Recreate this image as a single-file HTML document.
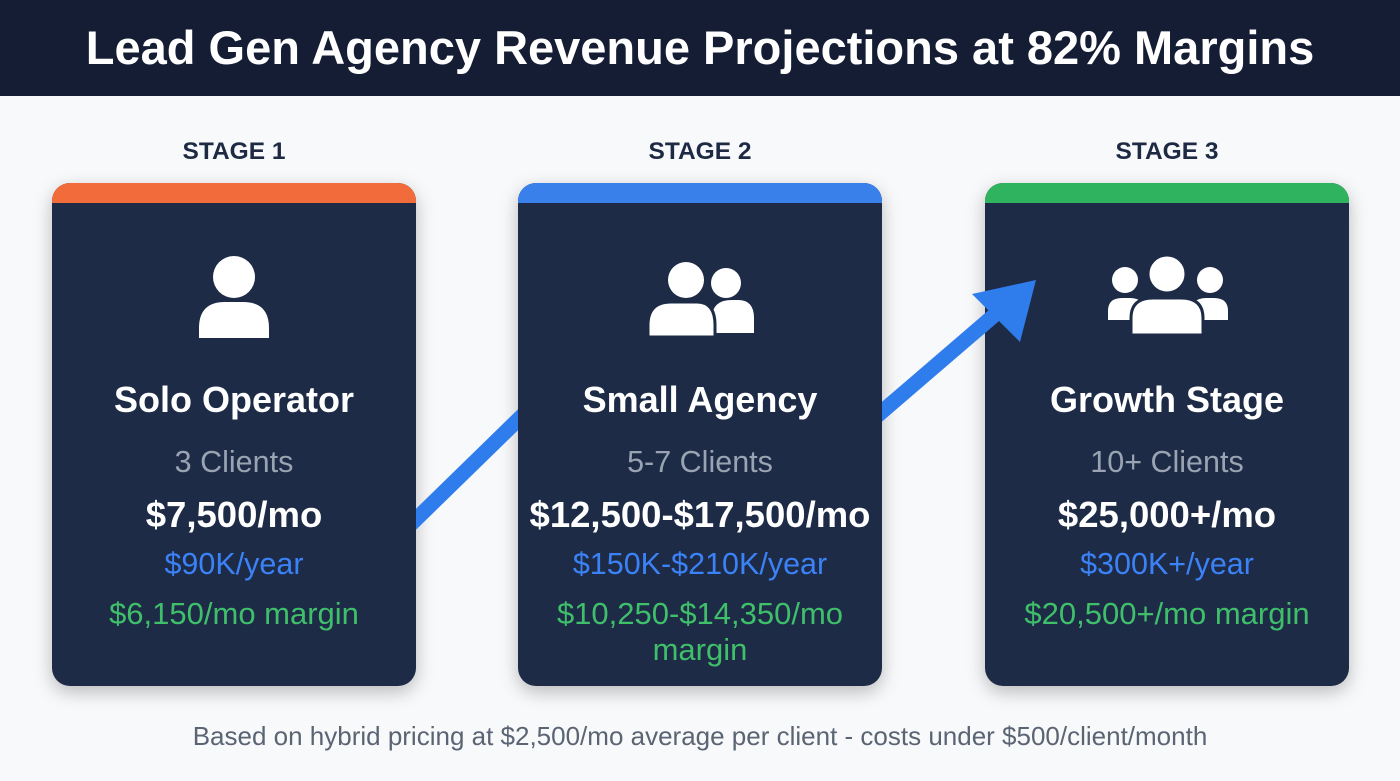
<!DOCTYPE html>
<html><head><meta charset="utf-8"><style>
body{margin:0;width:1400px;height:781px;background:#f8f9fb;font-family:"Liberation Sans",sans-serif;position:relative;overflow:hidden}
.hdr{position:absolute;left:0;top:0;width:1400px;height:96px;background:#141d33;color:#fff;font-weight:bold;font-size:47px;text-align:center;line-height:96px}
.stage{position:absolute;top:138px;width:364px;text-align:center;font-weight:bold;font-size:24.5px;color:#1e2a44}
.card{position:absolute;top:183px;width:364px;height:503px;background:#1d2b47;border-radius:18px;overflow:hidden;box-shadow:0 6px 18px rgba(0,0,0,0.25);text-align:center}
.bar{height:20px}
.t{position:absolute;left:0;width:100%;text-align:center;white-space:nowrap}
.name{top:196px;font-weight:bold;font-size:36px;color:#fff}
.cl{top:262px;font-size:30.5px;color:#9aa3b2}
.pr{top:311px;font-weight:bold;font-size:36.5px;color:#fff}
.yr{top:364px;font-size:30.5px;color:#3b82f6}
.mg{top:413px;font-size:31px;color:#3fbf6a;line-height:36px}
.icon{position:absolute;left:0;top:0;width:364px;height:170px}
.foot{position:absolute;top:721px;width:1400px;text-align:center;font-size:26px;color:#5a6473}
</style></head><body>
<div class="hdr">Lead Gen Agency Revenue Projections at 82% Margins</div>
<div class="stage" style="left:52px">STAGE 1</div>
<div class="stage" style="left:518px">STAGE 2</div>
<div class="stage" style="left:985px">STAGE 3</div>

<div class="card" style="left:52px">
<div class="bar" style="background:#f26b3a"></div>
<svg class="icon"><circle cx="182" cy="94" r="21" fill="#fff"/><path d="M147 155 v-10 q0-26 26-26 h18 q26 0 26 26 v10 z" fill="#fff"/></svg>
<div class="t name">Solo Operator</div><div class="t cl">3 Clients</div><div class="t pr">$7,500/mo</div><div class="t yr">$90K/year</div><div class="t mg">$6,150/mo margin</div>
</div>
<div class="card" style="left:518px">
<div class="bar" style="background:#3a80ea"></div>
<svg class="icon"><circle cx="168" cy="97" r="18" fill="#fff"/><circle cx="208" cy="100" r="15" fill="#fff"/><path d="M194 150 v-15 q0-18 20-18 h6 q16 0 16 18 v15 z" fill="#fff"/><path d="M130 154 v-12 q0-23 23-23 h26 q18 0 18 23 v12 z" fill="#fff" stroke="#1d2b47" stroke-width="3"/></svg>
<div class="t name">Small Agency</div><div class="t cl">5-7 Clients</div><div class="t pr">$12,500-$17,500/mo</div><div class="t yr">$150K-$210K/year</div><div class="t mg">$10,250-$14,350/mo<br>margin</div>
</div>
<div class="card" style="left:985px">
<div class="bar" style="background:#2fb35e"></div>
<svg class="icon"><circle cx="140" cy="97" r="13" fill="#fff"/><circle cx="225" cy="97" r="13" fill="#fff"/><path d="M123 137 v-9 q0-13 14-13 h8 q14 0 14 13 v9 z" fill="#fff"/><path d="M207 137 v-9 q0-13 14-13 h8 q14 0 14 13 v9 z" fill="#fff"/><circle cx="182" cy="91" r="19" fill="#fff" stroke="#1d2b47" stroke-width="3"/><path d="M146 152 v-17 q0-20 22-20 h28 q22 0 22 20 v17 z" fill="#fff" stroke="#1d2b47" stroke-width="3"/></svg>
<div class="t name">Growth Stage</div><div class="t cl">10+ Clients</div><div class="t pr">$25,000+/mo</div><div class="t yr">$300K+/year</div><div class="t mg">$20,500+/mo margin</div>
</div>
<svg style="position:absolute;left:0;top:0;z-index:5" width="1400" height="781">
<defs><clipPath id="c1"><rect x="416" y="0" width="102" height="781"/><rect x="882" y="0" width="300" height="781"/></clipPath></defs>
<g clip-path="url(#c1)">
<line x1="405" y1="530" x2="530" y2="408" stroke="#2f7cec" stroke-width="15"/>
<line x1="870" y1="422" x2="1005" y2="306" stroke="#2f7cec" stroke-width="15"/>
</g>
<polygon points="1036,280 1020,342 972,294" fill="#2f7cec"/>
</svg>
<div class="foot">Based on hybrid pricing at $2,500/mo average per client - costs under $500/client/month</div>
</body></html>
